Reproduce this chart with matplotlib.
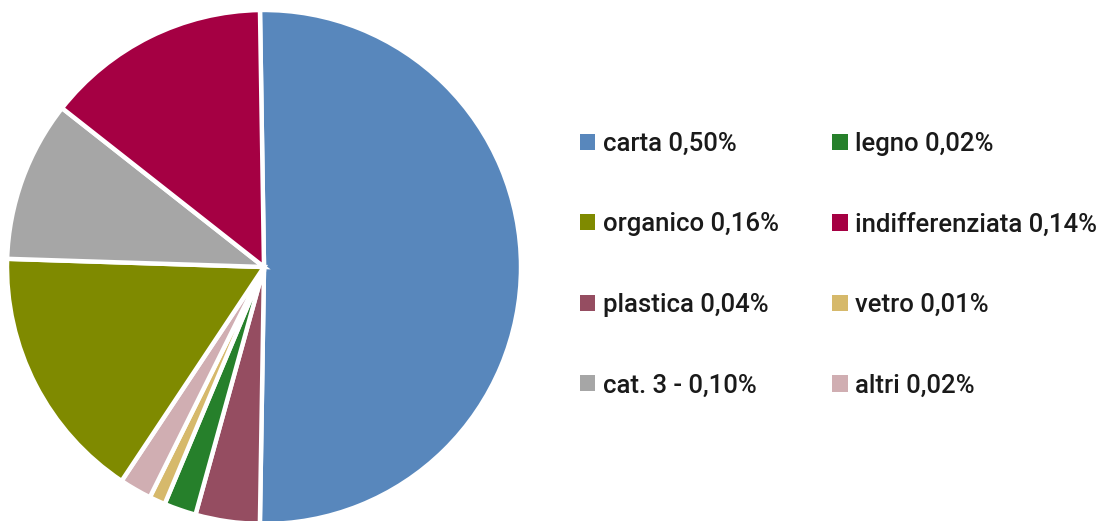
import matplotlib.pyplot as plt
from matplotlib.patches import Patch

# categories clockwise from 12 o'clock
categories = ["carta", "plastica", "legno", "vetro", "altri",
              "organico", "cat. 3 -", "indifferenziata"]
shares = [0.50, 0.04, 0.02, 0.01, 0.02, 0.16, 0.10, 0.14]
colors = ["#5887BC", "#954D61", "#26802B", "#D6B96B", "#D0AEB2",
          "#7F8A00", "#A6A6A6", "#A50043"]

# legend order (two columns, filled column by column)
legend_order = ["carta", "organico", "plastica", "cat. 3 -",
                "legno", "indifferenziata", "vetro", "altri"]

plt.rcParams['font.family'] = ['Roboto', 'DejaVu Sans']

W, H = 1099, 521
fig = plt.figure(figsize=(W / 100, H / 100), dpi=100)

cx, cy, r = 264, 267, 257
ax = fig.add_axes([(cx - r) / W, (H - cy - r) / H, 2 * r / W, 2 * r / H])
ax.pie(shares, colors=colors, startangle=90.9, counterclock=False,
       wedgeprops=dict(edgecolor="white", linewidth=3.2))
ax.set_xlim(-1, 1)
ax.set_ylim(-1, 1)
ax.set_aspect("equal")

def fmt(v):
    return ("%.2f%%" % v).replace(".", ",")

lookup = dict(zip(categories, zip(shares, colors)))
handles = []
for name in legend_order:
    v, c = lookup[name]
    handles.append(Patch(facecolor=c, edgecolor="none",
                         label="%s %s" % (name, fmt(v))))

fig.legend(handles=handles, ncol=2, frameon=False,
           loc="center left", bbox_to_anchor=(580 / W, 0.492),
           borderaxespad=0, borderpad=0,
           prop=dict(size=18.5, weight="medium"),
           handlelength=0.6, handleheight=0.6,
           handletextpad=0.3, labelspacing=2.2, columnspacing=2.07,
           labelcolor="#1a1a1a")

fig.savefig("out.png", dpi=100)
